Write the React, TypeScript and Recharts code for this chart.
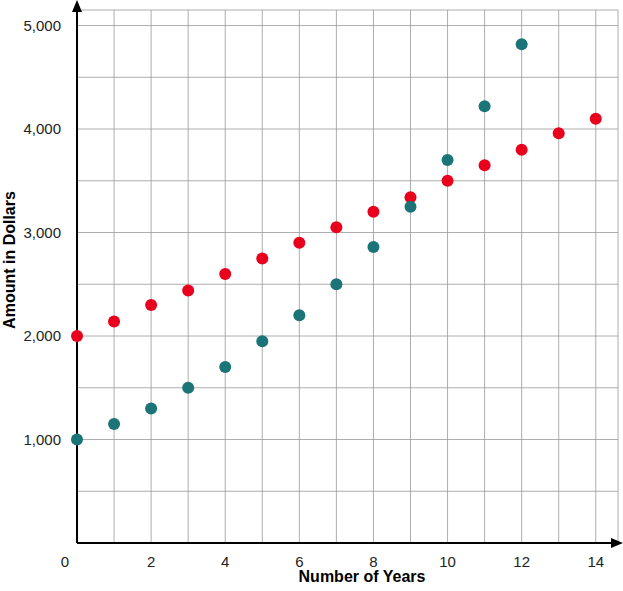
import { CartesianGrid, Scatter, ScatterChart, XAxis, YAxis } from 'recharts';

const years = [0, 1, 2, 3, 4, 5, 6, 7, 8, 9, 10, 11, 12, 13, 14];
const redValues = [2000, 2140, 2300, 2440, 2600, 2750, 2900, 3050, 3200, 3340, 3500, 3650, 3800, 3960, 4100];
const tealValues = [1000, 1150, 1300, 1500, 1700, 1950, 2200, 2500, 2860, 3250, 3700, 4220, 4820];
const xTicks = [0, 1, 2, 3, 4, 5, 6, 7, 8, 9, 10, 11, 12, 13, 14];
const yTicks = [0, 500, 1000, 1500, 2000, 2500, 3000, 3500, 4000, 4500, 5000];

const redData = redValues.map((v, i) => ({ x: years[i], y: v }));
const tealData = tealValues.map((v, i) => ({ x: years[i], y: v }));

const font = '"Liberation Sans", Arial, sans-serif';

function XTick({ x, y, payload }: any) {
  const v = payload.value;
  if (v !== 0 && v % 2 !== 0) return null;
  return (
    <text x={v === 0 ? x - 12 : x} y={y + 16} textAnchor="middle" fontSize={15} fill="#222" fontFamily={font}>
      {v}
    </text>
  );
}

function YTick({ x, y, payload }: any) {
  const v = payload.value;
  if (v === 0 || v % 1000 !== 0) return null;
  return (
    <text x={x - 8} y={y + 5} textAnchor="end" fontSize={15} fill="#222" fontFamily={font}>
      {v.toLocaleString('en-US')}
    </text>
  );
}

export default function App() {
  return (
    <div style={{ position: 'absolute', left: 0, top: 0, width: 623, height: 591, background: 'white' }}>
      <ScatterChart width={623} height={591} margin={{ top: 10, right: 5, left: 0, bottom: 0 }}>
        <CartesianGrid stroke="#999" strokeWidth={0.8} />
        <XAxis
          type="number"
          dataKey="x"
          domain={[0, 14.6]}
          ticks={xTicks}
          tick={<XTick />}
          tickLine={false}
          axisLine={{ stroke: '#000', strokeWidth: 2 }}
          height={48}
        />
        <YAxis
          type="number"
          dataKey="y"
          domain={[0, 5150]}
          ticks={yTicks}
          tick={<YTick />}
          tickLine={false}
          axisLine={{ stroke: '#000', strokeWidth: 2 }}
          width={77}
        />
        <Scatter data={redData} fill="#e8001c" isAnimationActive={false} shape={(p: any) => <circle cx={p.cx} cy={p.cy} r={6} fill="#e8001c" />} />
        <Scatter data={tealData} fill="#1a7478" isAnimationActive={false} shape={(p: any) => <circle cx={p.cx} cy={p.cy} r={6} fill="#1a7478" />} />
      </ScatterChart>
      <svg width={623} height={591} style={{ position: 'absolute', left: 0, top: 0, pointerEvents: 'none' }}>
        <polygon points="77,0 72,12 82,12" fill="#000" />
        <polygon points="623,543 611,538 611,548" fill="#000" />
        <text x={362} y={582} textAnchor="middle" fontFamily={font} fontWeight="bold" fontSize={16} fill="#000">
          Number of Years
        </text>
        <text transform="translate(15,260) rotate(-90)" textAnchor="middle" fontFamily={font} fontWeight="bold" fontSize={16} fill="#000">
          Amount in Dollars
        </text>
      </svg>
    </div>
  );
}
